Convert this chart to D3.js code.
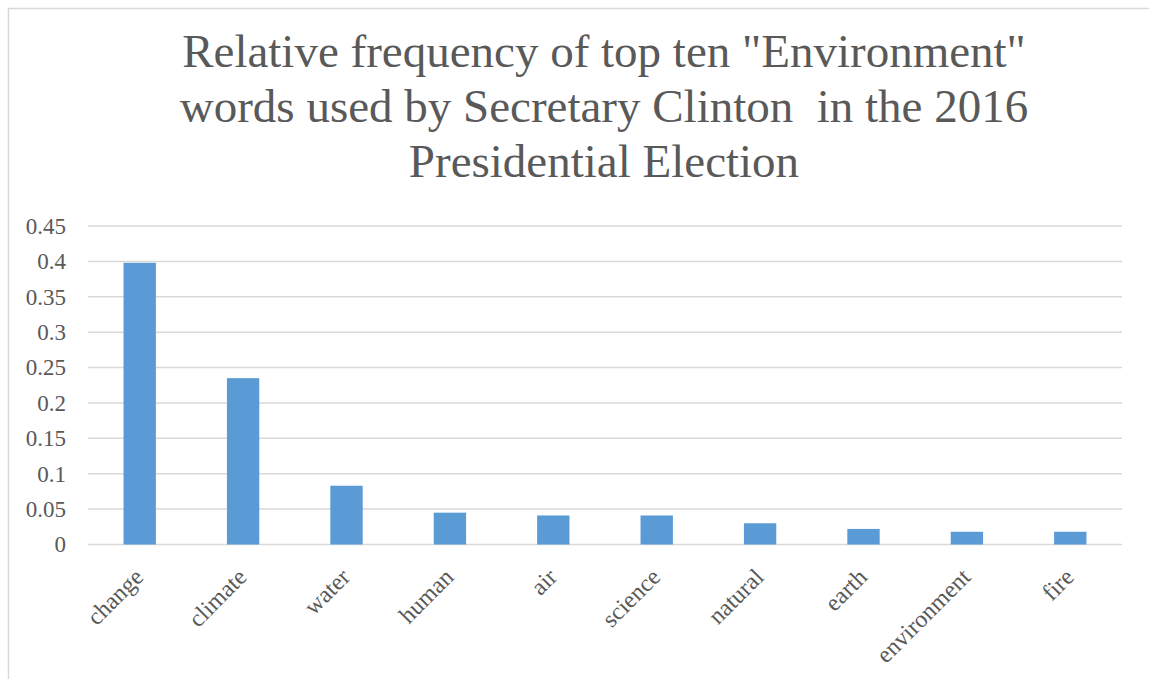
<!DOCTYPE html>
<html>
<head>
<meta charset="utf-8">
<script src="https://cdn.jsdelivr.net/npm/d3@7"></script>
<style>
  html, body { margin: 0; padding: 0; background: #fff; }
  svg { display: block; }
</style>
</head>
<body>
<svg id="chart" width="1149" height="679"></svg>
<script>
// Word categories and their relative frequencies
const words = ["change", "climate", "water", "human", "air", "science", "natural", "earth", "environment", "fire"];
const frequencies = [0.398, 0.235, 0.083, 0.045, 0.041, 0.041, 0.030, 0.022, 0.018, 0.018];
const yTicks = [0, 0.05, 0.1, 0.15, 0.2, 0.25, 0.3, 0.35, 0.4, 0.45];
const titleLines = [
  "Relative frequency of top ten \"Environment\"",
  "words used by Secretary Clinton  in the 2016",
  "Presidential Election"
];

const svg = d3.select("#chart");
const W = 1149, H = 679;
const textColor = "#595959";
const gridColor = "#d9d9d9";
const barColor = "#5b9bd5";
const serif = "\"Liberation Serif\"";

// Chart frame
svg.append("path")
  .attr("d", `M8.5,${H} V8.5 H${W}`)
  .attr("fill", "none")
  .attr("stroke", gridColor)
  .attr("stroke-width", 1.5);

const plot = { left: 88, right: 1122, top: 226, bottom: 544.5 };

// Title
svg.append("g")
  .selectAll("text")
  .data(titleLines)
  .join("text")
  .attr("x", 604)
  .attr("y", (d, i) => 67 + i * 55)
  .attr("text-anchor", "middle")
  .attr("fill", textColor)
  .style("font-family", serif)
  .style("font-size", "47px")
  .style("white-space", "pre")
  .text(d => d);

const x = d3.scaleBand()
  .domain(words)
  .range([plot.left, plot.right])
  .paddingInner(0.687)
  .paddingOuter(0.3435);

const y = d3.scaleLinear()
  .domain([0, 0.45])
  .range([plot.bottom, plot.top]);

// Horizontal gridlines
svg.append("g")
  .selectAll("line")
  .data(yTicks)
  .join("line")
  .attr("x1", plot.left)
  .attr("x2", plot.right)
  .attr("y1", d => y(d))
  .attr("y2", d => y(d))
  .attr("stroke", gridColor)
  .attr("stroke-width", 1.5);

// Y axis labels
const yAxis = d3.axisLeft(y)
  .tickValues(yTicks)
  .tickFormat(d => String(+d.toFixed(2)))
  .tickSize(0)
  .tickPadding(22);

const yg = svg.append("g")
  .attr("transform", `translate(${plot.left},0)`)
  .call(yAxis);
yg.select(".domain").remove();
yg.selectAll("text")
  .attr("fill", textColor)
  .style("font-family", serif)
  .style("font-size", "23px");

// Bars
svg.append("g")
  .selectAll("rect")
  .data(words)
  .join("rect")
  .attr("x", d => x(d))
  .attr("width", x.bandwidth())
  .attr("y", (d, i) => y(frequencies[i]))
  .attr("height", (d, i) => y(0) - y(frequencies[i]))
  .attr("fill", barColor);

// Category labels, rotated
const xAxis = d3.axisBottom(x).tickSize(0).tickPadding(0);
const xg = svg.append("g")
  .attr("transform", `translate(0,${plot.bottom})`)
  .call(xAxis);
xg.select(".domain").remove();
xg.selectAll("text")
  .attr("fill", textColor)
  .style("font-family", serif)
  .style("font-size", "24px")
  .attr("text-anchor", "end")
  .attr("dy", 0)
  .attr("y", 0)
  .attr("transform", "translate(5,34) rotate(-45)");
</script>
</body>
</html>
